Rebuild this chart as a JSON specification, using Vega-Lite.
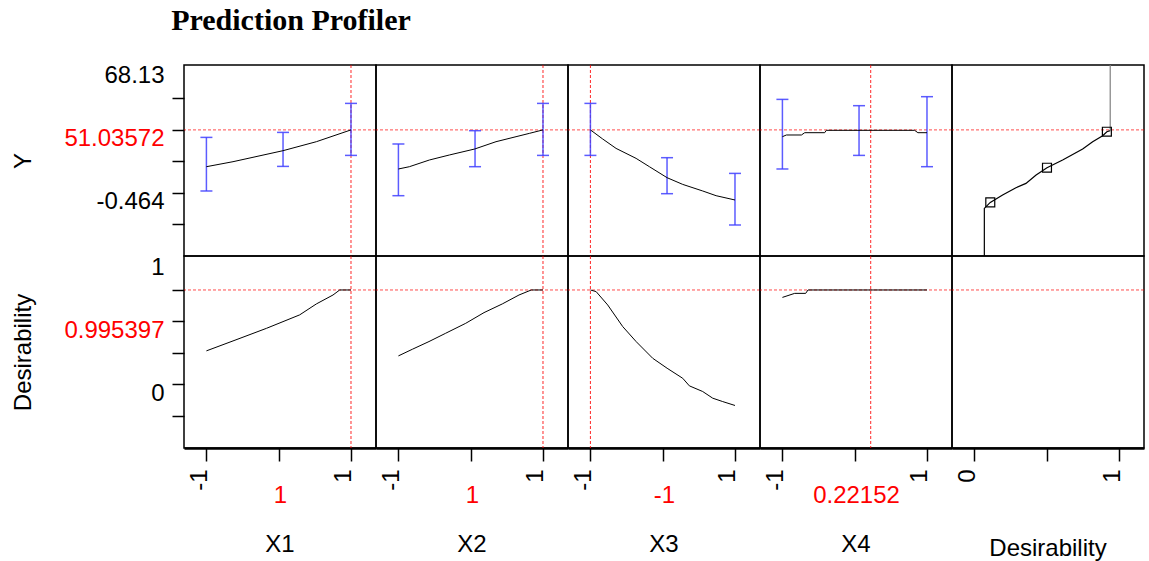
{
"$schema": "https://vega.github.io/schema/vega-lite/v6.json",
"padding": {"left": 11, "top": 5, "right": 0, "bottom": 0},
"title": {"text": "Prediction Profiler", "font": "Liberation Serif", "fontSize": 30, "fontWeight": "bold", "anchor": "start", "dx": 160, "offset": 26, "color": "black"},
"config": {"view": {"stroke": "black", "strokeWidth": 1.5}, "font": "Liberation Sans", "axis": {"labelFont": "Liberation Sans", "titleFont": "Liberation Sans"}},
"datasets": {
"ylevel": [{"row": "Y", "y": 33.833}, {"row": "Desirability", "y": 0.75}],
"current": [{"factor": "X1", "x": 1}, {"factor": "X2", "x": 1}, {"factor": "X3", "x": -1}, {"factor": "X4", "x": 0.22152}],
"ci": [
{"factor": "X1", "x": -1, "lo": 0.57, "hi": 29.75}, {"factor": "X1", "x": 0.06, "lo": 13.96, "hi": 32.47}, {"factor": "X1", "x": 1, "lo": 19.95, "hi": 48.26},
{"factor": "X2", "x": -1, "lo": -1.99, "hi": 26.16}, {"factor": "X2", "x": 0.06, "lo": 13.8, "hi": 33.4}, {"factor": "X2", "x": 1, "lo": 19.95, "hi": 48.26},
{"factor": "X3", "x": -1, "lo": 19.95, "hi": 48.26}, {"factor": "X3", "x": 0.06, "lo": -0.9, "hi": 18.7}, {"factor": "X3", "x": 1, "lo": -17.94, "hi": 10.15},
{"factor": "X4", "x": -1, "lo": 12.55, "hi": 50.44}, {"factor": "X4", "x": 0.06, "lo": 19.95, "hi": 47.01}, {"factor": "X4", "x": 1, "lo": 13.8, "hi": 51.91}
],
"profile": [
{"factor": "X1", "x": -1, "y": 13.8}, {"factor": "X1", "x": -0.632, "y": 16.52}, {"factor": "X1", "x": 0.059, "y": 22.51}, {"factor": "X1", "x": 0.521, "y": 27.41}, {"factor": "X1", "x": 1, "y": 33.83},
{"factor": "X2", "x": -1, "y": 12.55}, {"factor": "X2", "x": -0.848, "y": 13.8}, {"factor": "X2", "x": -0.571, "y": 17.45}, {"factor": "X2", "x": -0.295, "y": 20.17}, {"factor": "X2", "x": 0.055, "y": 23.43}, {"factor": "X2", "x": 0.35, "y": 27.41}, {"factor": "X2", "x": 0.627, "y": 30.13}, {"factor": "X2", "x": 0.811, "y": 31.93}, {"factor": "X2", "x": 1, "y": 33.83},
{"factor": "X3", "x": -1, "y": 33.83}, {"factor": "X3", "x": -0.83, "y": 28.88}, {"factor": "X3", "x": -0.645, "y": 23.76}, {"factor": "X3", "x": -0.368, "y": 18.32}, {"factor": "X3", "x": -0.184, "y": 13.8}, {"factor": "X3", "x": 0.061, "y": 7.81}, {"factor": "X3", "x": 0.277, "y": 4.16}, {"factor": "X3", "x": 0.554, "y": 0.57}, {"factor": "X3", "x": 0.739, "y": -1.99}, {"factor": "X3", "x": 1, "y": -4.33},
{"factor": "X4", "x": -1, "y": 30.13}, {"factor": "X4", "x": -0.945, "y": 31.06}, {"factor": "X4", "x": -0.737, "y": 31.06}, {"factor": "X4", "x": -0.691, "y": 32.31}, {"factor": "X4", "x": -0.415, "y": 32.31}, {"factor": "X4", "x": -0.392, "y": 33.6}, {"factor": "X4", "x": 0.829, "y": 33.6}, {"factor": "X4", "x": 0.874, "y": 32.31}, {"factor": "X4", "x": 1, "y": 32.31}
],
"desir": [
{"factor": "X1", "x": -1, "y": 0.266}, {"factor": "X1", "x": -0.632, "y": 0.345}, {"factor": "X1", "x": -0.17, "y": 0.445}, {"factor": "X1", "x": 0.29, "y": 0.552}, {"factor": "X1", "x": 0.521, "y": 0.639}, {"factor": "X1", "x": 0.751, "y": 0.71}, {"factor": "X1", "x": 0.844, "y": 0.75}, {"factor": "X1", "x": 1, "y": 0.75},
{"factor": "X2", "x": -1, "y": 0.226}, {"factor": "X2", "x": -0.806, "y": 0.279}, {"factor": "X2", "x": -0.577, "y": 0.34}, {"factor": "X2", "x": -0.346, "y": 0.406}, {"factor": "X2", "x": -0.069, "y": 0.485}, {"factor": "X2", "x": 0.184, "y": 0.57}, {"factor": "X2", "x": 0.437, "y": 0.639}, {"factor": "X2", "x": 0.668, "y": 0.71}, {"factor": "X2", "x": 0.838, "y": 0.75}, {"factor": "X2", "x": 1, "y": 0.75},
{"factor": "X3", "x": -1, "y": 0.75}, {"factor": "X3", "x": -0.921, "y": 0.737}, {"factor": "X3", "x": -0.761, "y": 0.631}, {"factor": "X3", "x": -0.553, "y": 0.459}, {"factor": "X3", "x": -0.368, "y": 0.34}, {"factor": "X3", "x": -0.138, "y": 0.207}, {"factor": "X3", "x": 0.061, "y": 0.128}, {"factor": "X3", "x": 0.277, "y": 0.048}, {"factor": "X3", "x": 0.369, "y": -0.012}, {"factor": "X3", "x": 0.553, "y": -0.057}, {"factor": "X3", "x": 0.692, "y": -0.11}, {"factor": "X3", "x": 0.83, "y": -0.137}, {"factor": "X3", "x": 1, "y": -0.168},
{"factor": "X4", "x": -1, "y": 0.691}, {"factor": "X4", "x": -0.83, "y": 0.723}, {"factor": "X4", "x": -0.678, "y": 0.723}, {"factor": "X4", "x": -0.646, "y": 0.75}, {"factor": "X4", "x": 1, "y": 0.75}
],
"dfun": [
{"seg": "a", "i": 0, "x": 0.069, "y": -34.8}, {"seg": "a", "i": 1, "x": 0.069, "y": -8.9}, {"seg": "a", "i": 2, "x": 0.11, "y": -5.64}, {"seg": "a", "i": 3, "x": 0.195, "y": -1.61}, {"seg": "a", "i": 4, "x": 0.287, "y": 2.37}, {"seg": "a", "i": 5, "x": 0.356, "y": 4.71}, {"seg": "a", "i": 6, "x": 0.426, "y": 9.28}, {"seg": "a", "i": 7, "x": 0.501, "y": 13.25}, {"seg": "a", "i": 8, "x": 0.609, "y": 17.45}, {"seg": "a", "i": 9, "x": 0.747, "y": 23.43}, {"seg": "a", "i": 10, "x": 0.816, "y": 27.41}, {"seg": "a", "i": 11, "x": 0.885, "y": 30.67}, {"seg": "a", "i": 12, "x": 0.914, "y": 32.85}, {"seg": "a", "i": 13, "x": 0.937, "y": 33.4},
{"seg": "b", "i": 14, "x": 0.937, "y": 33.4}, {"seg": "b", "i": 15, "x": 0.937, "y": 69.16}
],
"dpts": [{"x": 0.11, "y": -5.64}, {"x": 0.501, "y": 13.25}, {"x": 0.914, "y": 32.85}]
},
"columns": 5,
"spacing": 0,
"align": "each",
"bounds": "flush",
"concat": [
{"width": 192, "height": 191, "layer": [
 {"data": {"name": "ylevel"}, "transform": [{"filter": "datum.row == 'Y'"}], "mark": {"type": "rule", "color": "#ff0000", "strokeDash": [3, 2], "strokeWidth": 1, "opacity": 0.7}, "encoding": {"y": {"field": "y", "type": "quantitative", "scale": {"domain": [-34.82, 69.16], "nice": false, "zero": false}, "axis": {"title": "Y", "titleFontSize": 24, "titleFontWeight": "normal", "titlePadding": 28, "titleColor": "black", "values": [68.13, 50.9815, 33.833, 16.6845, -0.464, -17.6125], "labelExpr": "datum.value > 60 ? '68.13' : abs(datum.value - 33.833) < 0.01 ? '51.03572' : abs(datum.value + 0.464) < 0.01 ? '-0.464' : ''", "labelColor": {"condition": {"test": "abs(datum.value - 33.833) < 0.01", "value": "#ff0000"}, "value": "black"}, "tickOpacity": {"condition": {"test": "datum.value > 60", "value": 0}, "value": 1}, "labelFontSize": 24, "labelBaseline": "middle", "labelOffset": 9, "labelPadding": 8, "tickSize": 12, "tickWidth": 1.5, "tickColor": "black", "domain": false, "grid": false, "labelOverlap": false, "labelFlush": false}}}},
 {"data": {"name": "current"}, "transform": [{"filter": "datum.factor == 'X1'"}], "mark": {"type": "rule", "color": "#ff0000", "strokeDash": [3, 2], "strokeWidth": 1, "opacity": 0.85}, "encoding": {"x": {"field": "x", "type": "quantitative", "scale": {"domain": [-1.31, 1.346], "nice": false, "zero": false}, "axis": null}}},
 {"data": {"name": "ci"}, "transform": [{"filter": "datum.factor == 'X1'"}], "mark": {"type": "rule", "color": "#4040ff", "strokeWidth": 1.5, "opacity": 0.85}, "encoding": {"x": {"field": "x", "type": "quantitative", "scale": {"domain": [-1.31, 1.346], "nice": false, "zero": false}, "axis": null}, "y": {"field": "lo", "type": "quantitative", "scale": {"domain": [-34.82, 69.16], "nice": false, "zero": false}, "axis": {"title": "Y", "titleFontSize": 24, "titleFontWeight": "normal", "titlePadding": 28, "titleColor": "black", "values": [68.13, 50.9815, 33.833, 16.6845, -0.464, -17.6125], "labelExpr": "datum.value > 60 ? '68.13' : abs(datum.value - 33.833) < 0.01 ? '51.03572' : abs(datum.value + 0.464) < 0.01 ? '-0.464' : ''", "labelColor": {"condition": {"test": "abs(datum.value - 33.833) < 0.01", "value": "#ff0000"}, "value": "black"}, "tickOpacity": {"condition": {"test": "datum.value > 60", "value": 0}, "value": 1}, "labelFontSize": 24, "labelBaseline": "middle", "labelOffset": 9, "labelPadding": 8, "tickSize": 12, "tickWidth": 1.5, "tickColor": "black", "domain": false, "grid": false, "labelOverlap": false, "labelFlush": false}}, "y2": {"field": "hi"}}},
 {"data": {"name": "ci"}, "transform": [{"filter": "datum.factor == 'X1'"}, {"fold": ["lo", "hi"], "as": ["end", "v"]}], "mark": {"type": "tick", "orient": "horizontal", "color": "#4040ff", "size": 12, "thickness": 1.5, "opacity": 0.85}, "encoding": {"x": {"field": "x", "type": "quantitative", "scale": {"domain": [-1.31, 1.346], "nice": false, "zero": false}, "axis": null}, "y": {"field": "v", "type": "quantitative", "scale": {"domain": [-34.82, 69.16], "nice": false, "zero": false}, "axis": {"title": "Y", "titleFontSize": 24, "titleFontWeight": "normal", "titlePadding": 28, "titleColor": "black", "values": [68.13, 50.9815, 33.833, 16.6845, -0.464, -17.6125], "labelExpr": "datum.value > 60 ? '68.13' : abs(datum.value - 33.833) < 0.01 ? '51.03572' : abs(datum.value + 0.464) < 0.01 ? '-0.464' : ''", "labelColor": {"condition": {"test": "abs(datum.value - 33.833) < 0.01", "value": "#ff0000"}, "value": "black"}, "tickOpacity": {"condition": {"test": "datum.value > 60", "value": 0}, "value": 1}, "labelFontSize": 24, "labelBaseline": "middle", "labelOffset": 9, "labelPadding": 8, "tickSize": 12, "tickWidth": 1.5, "tickColor": "black", "domain": false, "grid": false, "labelOverlap": false, "labelFlush": false}}}},
 {"data": {"name": "profile"}, "transform": [{"filter": "datum.factor == 'X1'"}], "mark": {"type": "line", "color": "black", "strokeWidth": 1}, "encoding": {"x": {"field": "x", "type": "quantitative", "scale": {"domain": [-1.31, 1.346], "nice": false, "zero": false}, "axis": null}, "y": {"field": "y", "type": "quantitative", "scale": {"domain": [-34.82, 69.16], "nice": false, "zero": false}, "axis": {"title": "Y", "titleFontSize": 24, "titleFontWeight": "normal", "titlePadding": 28, "titleColor": "black", "values": [68.13, 50.9815, 33.833, 16.6845, -0.464, -17.6125], "labelExpr": "datum.value > 60 ? '68.13' : abs(datum.value - 33.833) < 0.01 ? '51.03572' : abs(datum.value + 0.464) < 0.01 ? '-0.464' : ''", "labelColor": {"condition": {"test": "abs(datum.value - 33.833) < 0.01", "value": "#ff0000"}, "value": "black"}, "tickOpacity": {"condition": {"test": "datum.value > 60", "value": 0}, "value": 1}, "labelFontSize": 24, "labelBaseline": "middle", "labelOffset": 9, "labelPadding": 8, "tickSize": 12, "tickWidth": 1.5, "tickColor": "black", "domain": false, "grid": false, "labelOverlap": false, "labelFlush": false}}}}
]},
{"width": 192, "height": 191, "layer": [
 {"data": {"name": "ylevel"}, "transform": [{"filter": "datum.row == 'Y'"}], "mark": {"type": "rule", "color": "#ff0000", "strokeDash": [3, 2], "strokeWidth": 1, "opacity": 0.7}, "encoding": {"y": {"field": "y", "type": "quantitative", "scale": {"domain": [-34.82, 69.16], "nice": false, "zero": false}, "axis": null}}},
 {"data": {"name": "current"}, "transform": [{"filter": "datum.factor == 'X2'"}], "mark": {"type": "rule", "color": "#ff0000", "strokeDash": [3, 2], "strokeWidth": 1, "opacity": 0.85}, "encoding": {"x": {"field": "x", "type": "quantitative", "scale": {"domain": [-1.31, 1.346], "nice": false, "zero": false}, "axis": null}}},
 {"data": {"name": "ci"}, "transform": [{"filter": "datum.factor == 'X2'"}], "mark": {"type": "rule", "color": "#4040ff", "strokeWidth": 1.5, "opacity": 0.85}, "encoding": {"x": {"field": "x", "type": "quantitative", "scale": {"domain": [-1.31, 1.346], "nice": false, "zero": false}, "axis": null}, "y": {"field": "lo", "type": "quantitative", "scale": {"domain": [-34.82, 69.16], "nice": false, "zero": false}, "axis": null}, "y2": {"field": "hi"}}},
 {"data": {"name": "ci"}, "transform": [{"filter": "datum.factor == 'X2'"}, {"fold": ["lo", "hi"], "as": ["end", "v"]}], "mark": {"type": "tick", "orient": "horizontal", "color": "#4040ff", "size": 12, "thickness": 1.5, "opacity": 0.85}, "encoding": {"x": {"field": "x", "type": "quantitative", "scale": {"domain": [-1.31, 1.346], "nice": false, "zero": false}, "axis": null}, "y": {"field": "v", "type": "quantitative", "scale": {"domain": [-34.82, 69.16], "nice": false, "zero": false}, "axis": null}}},
 {"data": {"name": "profile"}, "transform": [{"filter": "datum.factor == 'X2'"}], "mark": {"type": "line", "color": "black", "strokeWidth": 1}, "encoding": {"x": {"field": "x", "type": "quantitative", "scale": {"domain": [-1.31, 1.346], "nice": false, "zero": false}, "axis": null}, "y": {"field": "y", "type": "quantitative", "scale": {"domain": [-34.82, 69.16], "nice": false, "zero": false}, "axis": null}}}
]},
{"width": 192, "height": 191, "layer": [
 {"data": {"name": "ylevel"}, "transform": [{"filter": "datum.row == 'Y'"}], "mark": {"type": "rule", "color": "#ff0000", "strokeDash": [3, 2], "strokeWidth": 1, "opacity": 0.7}, "encoding": {"y": {"field": "y", "type": "quantitative", "scale": {"domain": [-34.82, 69.16], "nice": false, "zero": false}, "axis": null}}},
 {"data": {"name": "current"}, "transform": [{"filter": "datum.factor == 'X3'"}], "mark": {"type": "rule", "color": "#ff0000", "strokeDash": [3, 2], "strokeWidth": 1, "opacity": 0.85}, "encoding": {"x": {"field": "x", "type": "quantitative", "scale": {"domain": [-1.31, 1.346], "nice": false, "zero": false}, "axis": null}}},
 {"data": {"name": "ci"}, "transform": [{"filter": "datum.factor == 'X3'"}], "mark": {"type": "rule", "color": "#4040ff", "strokeWidth": 1.5, "opacity": 0.85}, "encoding": {"x": {"field": "x", "type": "quantitative", "scale": {"domain": [-1.31, 1.346], "nice": false, "zero": false}, "axis": null}, "y": {"field": "lo", "type": "quantitative", "scale": {"domain": [-34.82, 69.16], "nice": false, "zero": false}, "axis": null}, "y2": {"field": "hi"}}},
 {"data": {"name": "ci"}, "transform": [{"filter": "datum.factor == 'X3'"}, {"fold": ["lo", "hi"], "as": ["end", "v"]}], "mark": {"type": "tick", "orient": "horizontal", "color": "#4040ff", "size": 12, "thickness": 1.5, "opacity": 0.85}, "encoding": {"x": {"field": "x", "type": "quantitative", "scale": {"domain": [-1.31, 1.346], "nice": false, "zero": false}, "axis": null}, "y": {"field": "v", "type": "quantitative", "scale": {"domain": [-34.82, 69.16], "nice": false, "zero": false}, "axis": null}}},
 {"data": {"name": "profile"}, "transform": [{"filter": "datum.factor == 'X3'"}], "mark": {"type": "line", "color": "black", "strokeWidth": 1}, "encoding": {"x": {"field": "x", "type": "quantitative", "scale": {"domain": [-1.31, 1.346], "nice": false, "zero": false}, "axis": null}, "y": {"field": "y", "type": "quantitative", "scale": {"domain": [-34.82, 69.16], "nice": false, "zero": false}, "axis": null}}}
]},
{"width": 192, "height": 191, "layer": [
 {"data": {"name": "ylevel"}, "transform": [{"filter": "datum.row == 'Y'"}], "mark": {"type": "rule", "color": "#ff0000", "strokeDash": [3, 2], "strokeWidth": 1, "opacity": 0.7}, "encoding": {"y": {"field": "y", "type": "quantitative", "scale": {"domain": [-34.82, 69.16], "nice": false, "zero": false}, "axis": null}}},
 {"data": {"name": "current"}, "transform": [{"filter": "datum.factor == 'X4'"}], "mark": {"type": "rule", "color": "#ff0000", "strokeDash": [3, 2], "strokeWidth": 1, "opacity": 0.85}, "encoding": {"x": {"field": "x", "type": "quantitative", "scale": {"domain": [-1.31, 1.346], "nice": false, "zero": false}, "axis": null}}},
 {"data": {"name": "ci"}, "transform": [{"filter": "datum.factor == 'X4'"}], "mark": {"type": "rule", "color": "#4040ff", "strokeWidth": 1.5, "opacity": 0.85}, "encoding": {"x": {"field": "x", "type": "quantitative", "scale": {"domain": [-1.31, 1.346], "nice": false, "zero": false}, "axis": null}, "y": {"field": "lo", "type": "quantitative", "scale": {"domain": [-34.82, 69.16], "nice": false, "zero": false}, "axis": null}, "y2": {"field": "hi"}}},
 {"data": {"name": "ci"}, "transform": [{"filter": "datum.factor == 'X4'"}, {"fold": ["lo", "hi"], "as": ["end", "v"]}], "mark": {"type": "tick", "orient": "horizontal", "color": "#4040ff", "size": 12, "thickness": 1.5, "opacity": 0.85}, "encoding": {"x": {"field": "x", "type": "quantitative", "scale": {"domain": [-1.31, 1.346], "nice": false, "zero": false}, "axis": null}, "y": {"field": "v", "type": "quantitative", "scale": {"domain": [-34.82, 69.16], "nice": false, "zero": false}, "axis": null}}},
 {"data": {"name": "profile"}, "transform": [{"filter": "datum.factor == 'X4'"}], "mark": {"type": "line", "color": "black", "strokeWidth": 1}, "encoding": {"x": {"field": "x", "type": "quantitative", "scale": {"domain": [-1.31, 1.346], "nice": false, "zero": false}, "axis": null}, "y": {"field": "y", "type": "quantitative", "scale": {"domain": [-34.82, 69.16], "nice": false, "zero": false}, "axis": null}}}
]},
{"width": 192, "height": 191, "layer": [
 {"data": {"name": "ylevel"}, "transform": [{"filter": "datum.row == 'Y'"}], "mark": {"type": "rule", "color": "#ff0000", "strokeDash": [3, 2], "strokeWidth": 1, "opacity": 0.7}, "encoding": {"y": {"field": "y", "type": "quantitative", "scale": {"domain": [-34.82, 69.16], "nice": false, "zero": false}, "axis": null}}},
 {"data": {"name": "dfun"}, "mark": {"type": "line", "strokeWidth": 1.2}, "encoding": {"x": {"field": "x", "type": "quantitative", "scale": {"domain": [-0.154, 1.17], "nice": false, "zero": false}, "axis": null}, "y": {"field": "y", "type": "quantitative", "scale": {"domain": [-34.82, 69.16], "nice": false, "zero": false}, "axis": null}, "color": {"field": "seg", "type": "nominal", "scale": {"domain": ["a", "b"], "range": ["black", "#808080"]}, "legend": null}, "order": {"field": "i", "type": "quantitative"}}},
 {"data": {"name": "dpts"}, "mark": {"type": "point", "shape": "square", "filled": false, "color": "black", "strokeWidth": 1.2, "size": 80, "opacity": 1}, "encoding": {"x": {"field": "x", "type": "quantitative", "scale": {"domain": [-0.154, 1.17], "nice": false, "zero": false}, "axis": null}, "y": {"field": "y", "type": "quantitative", "scale": {"domain": [-34.82, 69.16], "nice": false, "zero": false}, "axis": null}}}
]},
{"width": 192, "height": 192,
 "title": {"text": "X1", "orient": "bottom", "anchor": "middle", "frame": "group", "fontSize": 24, "fontWeight": "normal", "font": "Liberation Sans", "offset": 26, "color": "black"},
 "layer": [
 {"data": {"name": "ylevel"}, "transform": [{"filter": "datum.row == 'Desirability'"}], "mark": {"type": "rule", "color": "#ff0000", "strokeDash": [3, 2], "strokeWidth": 1, "opacity": 0.7}, "encoding": {"y": {"field": "y", "type": "quantitative", "scale": {"domain": [-0.506, 1.02], "nice": false, "zero": false}, "axis": {"title": "Desirability", "titleFontSize": 24, "titleFontWeight": "normal", "titlePadding": 28, "titleColor": "black", "values": [1, 0.75, 0.5, 0.25, 0, -0.25], "labelExpr": "datum.value == 1 ? '1' : datum.value == 0.5 ? '0.995397' : datum.value == 0 ? '0' : ''", "labelColor": {"condition": {"test": "datum.value == 0.5", "value": "#ff0000"}, "value": "black"}, "tickOpacity": {"condition": {"test": "datum.value == 1", "value": 0}, "value": 1}, "labelFontSize": 24, "labelBaseline": "middle", "labelOffset": 9, "labelPadding": 8, "tickSize": 12, "tickWidth": 1.5, "tickColor": "black", "domain": false, "grid": false, "labelOverlap": false, "labelFlush": false}}}},
 {"data": {"name": "current"}, "transform": [{"filter": "datum.factor == 'X1'"}], "mark": {"type": "rule", "color": "#ff0000", "strokeDash": [3, 2], "strokeWidth": 1, "opacity": 0.85}, "encoding": {"x": {"field": "x", "type": "quantitative", "scale": {"domain": [-1.31, 1.346], "nice": false, "zero": false}, "axis": {"title": "1", "titleColor": "#ff0000", "titleFontSize": 24, "titleFontWeight": "normal", "titlePadding": -7, "values": [-1, 0, 1], "labelExpr": "datum.value == -1 ? '-1' : datum.value == 1 ? '1' : ''", "labelAngle": 270, "labelAlign": "right", "labelBaseline": "alphabetic", "labelFontSize": 24, "labelPadding": 8, "labelColor": "black", "tickSize": 13, "tickWidth": 1.5, "tickColor": "black", "domain": true, "domainColor": "black", "domainWidth": 2.5, "grid": false, "labelOverlap": false, "labelFlush": false}}}},
 {"data": {"name": "desir"}, "transform": [{"filter": "datum.factor == 'X1'"}], "mark": {"type": "line", "color": "black", "strokeWidth": 1}, "encoding": {"x": {"field": "x", "type": "quantitative", "scale": {"domain": [-1.31, 1.346], "nice": false, "zero": false}, "axis": {"title": "1", "titleColor": "#ff0000", "titleFontSize": 24, "titleFontWeight": "normal", "titlePadding": -7, "values": [-1, 0, 1], "labelExpr": "datum.value == -1 ? '-1' : datum.value == 1 ? '1' : ''", "labelAngle": 270, "labelAlign": "right", "labelBaseline": "alphabetic", "labelFontSize": 24, "labelPadding": 8, "labelColor": "black", "tickSize": 13, "tickWidth": 1.5, "tickColor": "black", "domain": true, "domainColor": "black", "domainWidth": 2.5, "grid": false, "labelOverlap": false, "labelFlush": false}}, "y": {"field": "y", "type": "quantitative", "scale": {"domain": [-0.506, 1.02], "nice": false, "zero": false}, "axis": {"title": "Desirability", "titleFontSize": 24, "titleFontWeight": "normal", "titlePadding": 28, "titleColor": "black", "values": [1, 0.75, 0.5, 0.25, 0, -0.25], "labelExpr": "datum.value == 1 ? '1' : datum.value == 0.5 ? '0.995397' : datum.value == 0 ? '0' : ''", "labelColor": {"condition": {"test": "datum.value == 0.5", "value": "#ff0000"}, "value": "black"}, "tickOpacity": {"condition": {"test": "datum.value == 1", "value": 0}, "value": 1}, "labelFontSize": 24, "labelBaseline": "middle", "labelOffset": 9, "labelPadding": 8, "tickSize": 12, "tickWidth": 1.5, "tickColor": "black", "domain": false, "grid": false, "labelOverlap": false, "labelFlush": false}}}}
]},
{"width": 192, "height": 192,
 "title": {"text": "X2", "orient": "bottom", "anchor": "middle", "frame": "group", "fontSize": 24, "fontWeight": "normal", "font": "Liberation Sans", "offset": 26, "color": "black"},
 "layer": [
 {"data": {"name": "ylevel"}, "transform": [{"filter": "datum.row == 'Desirability'"}], "mark": {"type": "rule", "color": "#ff0000", "strokeDash": [3, 2], "strokeWidth": 1, "opacity": 0.7}, "encoding": {"y": {"field": "y", "type": "quantitative", "scale": {"domain": [-0.506, 1.02], "nice": false, "zero": false}, "axis": null}}},
 {"data": {"name": "current"}, "transform": [{"filter": "datum.factor == 'X2'"}], "mark": {"type": "rule", "color": "#ff0000", "strokeDash": [3, 2], "strokeWidth": 1, "opacity": 0.85}, "encoding": {"x": {"field": "x", "type": "quantitative", "scale": {"domain": [-1.31, 1.346], "nice": false, "zero": false}, "axis": {"title": "1", "titleColor": "#ff0000", "titleFontSize": 24, "titleFontWeight": "normal", "titlePadding": -7, "values": [-1, 0, 1], "labelExpr": "datum.value == -1 ? '-1' : datum.value == 1 ? '1' : ''", "labelAngle": 270, "labelAlign": "right", "labelBaseline": "alphabetic", "labelFontSize": 24, "labelPadding": 8, "labelColor": "black", "tickSize": 13, "tickWidth": 1.5, "tickColor": "black", "domain": true, "domainColor": "black", "domainWidth": 2.5, "grid": false, "labelOverlap": false, "labelFlush": false}}}},
 {"data": {"name": "desir"}, "transform": [{"filter": "datum.factor == 'X2'"}], "mark": {"type": "line", "color": "black", "strokeWidth": 1}, "encoding": {"x": {"field": "x", "type": "quantitative", "scale": {"domain": [-1.31, 1.346], "nice": false, "zero": false}, "axis": {"title": "1", "titleColor": "#ff0000", "titleFontSize": 24, "titleFontWeight": "normal", "titlePadding": -7, "values": [-1, 0, 1], "labelExpr": "datum.value == -1 ? '-1' : datum.value == 1 ? '1' : ''", "labelAngle": 270, "labelAlign": "right", "labelBaseline": "alphabetic", "labelFontSize": 24, "labelPadding": 8, "labelColor": "black", "tickSize": 13, "tickWidth": 1.5, "tickColor": "black", "domain": true, "domainColor": "black", "domainWidth": 2.5, "grid": false, "labelOverlap": false, "labelFlush": false}}, "y": {"field": "y", "type": "quantitative", "scale": {"domain": [-0.506, 1.02], "nice": false, "zero": false}, "axis": null}}}
]},
{"width": 192, "height": 192,
 "title": {"text": "X3", "orient": "bottom", "anchor": "middle", "frame": "group", "fontSize": 24, "fontWeight": "normal", "font": "Liberation Sans", "offset": 26, "color": "black"},
 "layer": [
 {"data": {"name": "ylevel"}, "transform": [{"filter": "datum.row == 'Desirability'"}], "mark": {"type": "rule", "color": "#ff0000", "strokeDash": [3, 2], "strokeWidth": 1, "opacity": 0.7}, "encoding": {"y": {"field": "y", "type": "quantitative", "scale": {"domain": [-0.506, 1.02], "nice": false, "zero": false}, "axis": null}}},
 {"data": {"name": "current"}, "transform": [{"filter": "datum.factor == 'X3'"}], "mark": {"type": "rule", "color": "#ff0000", "strokeDash": [3, 2], "strokeWidth": 1, "opacity": 0.85}, "encoding": {"x": {"field": "x", "type": "quantitative", "scale": {"domain": [-1.31, 1.346], "nice": false, "zero": false}, "axis": {"title": "-1", "titleColor": "#ff0000", "titleFontSize": 24, "titleFontWeight": "normal", "titlePadding": -7, "values": [-1, 0, 1], "labelExpr": "datum.value == -1 ? '-1' : datum.value == 1 ? '1' : ''", "labelAngle": 270, "labelAlign": "right", "labelBaseline": "alphabetic", "labelFontSize": 24, "labelPadding": 8, "labelColor": "black", "tickSize": 13, "tickWidth": 1.5, "tickColor": "black", "domain": true, "domainColor": "black", "domainWidth": 2.5, "grid": false, "labelOverlap": false, "labelFlush": false}}}},
 {"data": {"name": "desir"}, "transform": [{"filter": "datum.factor == 'X3'"}], "mark": {"type": "line", "color": "black", "strokeWidth": 1}, "encoding": {"x": {"field": "x", "type": "quantitative", "scale": {"domain": [-1.31, 1.346], "nice": false, "zero": false}, "axis": {"title": "-1", "titleColor": "#ff0000", "titleFontSize": 24, "titleFontWeight": "normal", "titlePadding": -7, "values": [-1, 0, 1], "labelExpr": "datum.value == -1 ? '-1' : datum.value == 1 ? '1' : ''", "labelAngle": 270, "labelAlign": "right", "labelBaseline": "alphabetic", "labelFontSize": 24, "labelPadding": 8, "labelColor": "black", "tickSize": 13, "tickWidth": 1.5, "tickColor": "black", "domain": true, "domainColor": "black", "domainWidth": 2.5, "grid": false, "labelOverlap": false, "labelFlush": false}}, "y": {"field": "y", "type": "quantitative", "scale": {"domain": [-0.506, 1.02], "nice": false, "zero": false}, "axis": null}}}
]},
{"width": 192, "height": 192,
 "title": {"text": "X4", "orient": "bottom", "anchor": "middle", "frame": "group", "fontSize": 24, "fontWeight": "normal", "font": "Liberation Sans", "offset": 26, "color": "black"},
 "layer": [
 {"data": {"name": "ylevel"}, "transform": [{"filter": "datum.row == 'Desirability'"}], "mark": {"type": "rule", "color": "#ff0000", "strokeDash": [3, 2], "strokeWidth": 1, "opacity": 0.7}, "encoding": {"y": {"field": "y", "type": "quantitative", "scale": {"domain": [-0.506, 1.02], "nice": false, "zero": false}, "axis": null}}},
 {"data": {"name": "current"}, "transform": [{"filter": "datum.factor == 'X4'"}], "mark": {"type": "rule", "color": "#ff0000", "strokeDash": [3, 2], "strokeWidth": 1, "opacity": 0.85}, "encoding": {"x": {"field": "x", "type": "quantitative", "scale": {"domain": [-1.31, 1.346], "nice": false, "zero": false}, "axis": {"title": "0.22152", "titleColor": "#ff0000", "titleFontSize": 24, "titleFontWeight": "normal", "titlePadding": -7, "values": [-1, 0, 1], "labelExpr": "datum.value == -1 ? '-1' : datum.value == 1 ? '1' : ''", "labelAngle": 270, "labelAlign": "right", "labelBaseline": "alphabetic", "labelFontSize": 24, "labelPadding": 8, "labelColor": "black", "tickSize": 13, "tickWidth": 1.5, "tickColor": "black", "domain": true, "domainColor": "black", "domainWidth": 2.5, "grid": false, "labelOverlap": false, "labelFlush": false}}}},
 {"data": {"name": "desir"}, "transform": [{"filter": "datum.factor == 'X4'"}], "mark": {"type": "line", "color": "black", "strokeWidth": 1}, "encoding": {"x": {"field": "x", "type": "quantitative", "scale": {"domain": [-1.31, 1.346], "nice": false, "zero": false}, "axis": {"title": "0.22152", "titleColor": "#ff0000", "titleFontSize": 24, "titleFontWeight": "normal", "titlePadding": -7, "values": [-1, 0, 1], "labelExpr": "datum.value == -1 ? '-1' : datum.value == 1 ? '1' : ''", "labelAngle": 270, "labelAlign": "right", "labelBaseline": "alphabetic", "labelFontSize": 24, "labelPadding": 8, "labelColor": "black", "tickSize": 13, "tickWidth": 1.5, "tickColor": "black", "domain": true, "domainColor": "black", "domainWidth": 2.5, "grid": false, "labelOverlap": false, "labelFlush": false}}, "y": {"field": "y", "type": "quantitative", "scale": {"domain": [-0.506, 1.02], "nice": false, "zero": false}, "axis": null}}}
]},
{"width": 192, "height": 192,
 "title": {"text": "Desirability", "orient": "bottom", "anchor": "middle", "frame": "group", "fontSize": 24, "fontWeight": "normal", "font": "Liberation Sans", "offset": 55, "color": "black"},
 "layer": [
 {"data": {"name": "ylevel"}, "transform": [{"filter": "datum.row == 'Desirability'"}], "mark": {"type": "rule", "color": "#ff0000", "strokeDash": [3, 2], "strokeWidth": 1, "opacity": 0.7}, "encoding": {"y": {"field": "y", "type": "quantitative", "scale": {"domain": [-0.506, 1.02], "nice": false, "zero": false}, "axis": null}}},
 {"data": {"name": "dpts"}, "mark": {"type": "rule", "opacity": 0}, "encoding": {"x": {"field": "x", "type": "quantitative", "scale": {"domain": [-0.154, 1.17], "nice": false, "zero": false}, "axis": {"title": null, "values": [0, 0.5, 1], "labelExpr": "datum.value == 0 ? '0' : datum.value == 1 ? '1' : ''", "labelAngle": 270, "labelAlign": "right", "labelBaseline": "alphabetic", "labelFontSize": 24, "labelPadding": 8, "labelColor": "black", "tickSize": 13, "tickWidth": 1.5, "tickColor": "black", "domain": true, "domainColor": "black", "domainWidth": 2.5, "grid": false, "labelOverlap": false, "labelFlush": false}}}}
]}
]
}
